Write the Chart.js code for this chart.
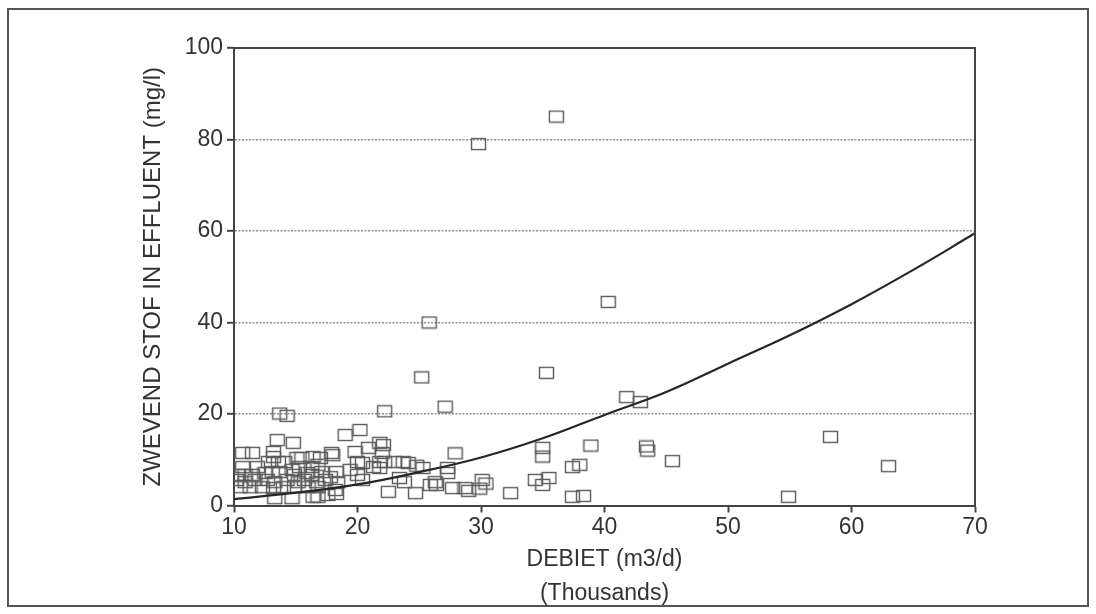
<!DOCTYPE html>
<html>
<head>
<meta charset="utf-8">
<script src="https://cdn.jsdelivr.net/npm/chart.js@4/dist/chart.umd.min.js"></script>
<style>
    html, body { margin: 0; padding: 0; background: #ffffff; }
    #wrap { width: 1096px; height: 614px; position: relative; }
</style>
</head>
<body>
<div id="wrap"><canvas id="debietChart" width="1096" height="614"></canvas></div>
<script>
// Data: debiet (x 1000 m3/d) and zwevend stof (mg/l)

const debiet = [
    36.1, 29.8, 40.3, 25.8, 25.2, 35.3, 41.8, 42.9, 27.1, 22.2, 13.7, 14.3,
    38.9, 43.4, 43.5, 45.5, 58.3, 63.0, 54.9, 35.0, 35.0, 37.4, 38.0, 35.5, 34.4, 35.0, 37.4, 38.3, 32.4,
    27.9, 27.3, 27.3, 26.3, 26.4, 27.7, 28.7, 29.0, 29.9, 30.1, 30.4, 25.9, 24.7, 22.5, 23.4, 23.8,
    23.7, 24.1, 24.8, 25.3, 23.0, 22.2, 21.8, 21.3, 21.8, 21.8, 22.1, 22.0, 20.9, 19.8, 19.0, 20.2,
    18.0, 20.0, 20.4, 18.3, 19.4, 17.8, 18.4, 20.0, 20.4, 18.2, 18.3,
    13.5, 14.8, 10.7, 11.5, 13.2, 13.2, 17.9, 15.1, 15.5, 16.4, 17.0, 12.8, 13.6, 14.1,
    10.7, 11.9, 15.3, 16.3, 16.8, 10.3, 10.9, 11.5, 12.5, 13.1, 13.7, 14.7, 14.9, 15.9, 16.3, 17.1,
    10.2, 10.9, 11.7, 12.7, 13.3, 14.3, 15.2, 15.7, 16.7, 17.4,
    10.5, 11.3, 12.3, 13.2, 14.0, 14.9, 16.0, 16.8, 13.3, 14.7, 16.4, 16.8, 17.6
];

const zwevendStof = [
    85.0, 79.0, 44.5, 40.0, 28.0, 29.0, 23.7, 22.6, 21.6, 20.6, 20.1, 19.6,
    13.1, 12.9, 12.0, 9.7, 15.0, 8.6, 1.9, 12.6, 10.7, 8.4, 8.9, 6.0, 5.6, 4.5, 1.9, 2.1, 2.7,
    11.4, 8.2, 7.1, 5.1, 4.5, 3.8, 3.8, 3.2, 3.7, 5.6, 4.8, 4.5, 2.7, 3.0, 6.0, 5.1,
    9.5, 9.3, 8.7, 8.2, 9.5, 9.5, 9.5, 8.4, 8.2, 13.7, 13.2, 11.5, 12.6, 11.7, 15.4, 16.5,
    11.0, 9.5, 9.3, 7.3, 7.8, 6.2, 5.1, 6.7, 5.6, 3.4, 2.5,
    14.3, 13.7, 11.5, 11.5, 11.7, 10.6, 11.5, 10.4, 10.4, 10.6, 10.4, 9.5, 9.5, 9.5,
    8.4, 8.4, 8.4, 8.4, 8.9, 6.7, 6.7, 6.7, 7.1, 7.3, 7.3, 7.8, 6.7, 7.1, 6.7, 7.3,
    5.6, 5.1, 5.6, 5.6, 5.1, 5.6, 5.1, 5.6, 5.1, 5.6,
    4.0, 4.0, 4.0, 3.8, 4.0, 4.0, 4.0, 4.0, 1.6, 1.6, 1.9, 1.9, 2.3
];

// fitted curve
const fitX = [10, 15, 20, 25, 30, 35, 40, 45, 50, 55, 60, 65, 70];
const fitY = [1.4, 2.8, 4.6, 7.3, 10.5, 14.7, 19.8, 24.8, 31.0, 37.2, 44.0, 51.5, 59.5];

const xTicks = [10, 20, 30, 40, 50, 60, 70];
const yTicks = [0, 20, 40, 60, 80, 100];

// Marker: open rectangle

const marker = document.createElement("canvas");
marker.width = 17;
marker.height = 14;
(function () {
    const c = marker.getContext("2d");
    c.strokeStyle = "#5a5a5a";
    c.lineWidth = 1.4;
    c.strokeRect(1.5, 1.5, 14, 11);
})();

const points = debiet.map((x, i) => ({ x: x, y: zwevendStof[i] }));
const curve = fitX.map((x, i) => ({ x: x, y: fitY[i] }));

// Frame plugin: outer box and plot box

const framePlugin = {
    id: "frames",
    beforeDraw(chart) {
        const ctx = chart.ctx;
        ctx.save();
        ctx.fillStyle = "#ffffff";
        ctx.fillRect(0, 0, chart.width, chart.height);
        ctx.strokeStyle = "#555555";
        ctx.lineWidth = 2;
        ctx.strokeRect(8, 9, 1080, 597);
        ctx.restore();
    },
    afterDatasetsDraw(chart) {
        const a = chart.chartArea, ctx = chart.ctx;
        ctx.save();
        ctx.strokeStyle = "#444444";
        ctx.lineWidth = 2;
        ctx.beginPath();
        ctx.moveTo(a.left, a.top);
        ctx.lineTo(a.right, a.top);
        ctx.lineTo(a.right, a.bottom);
        ctx.stroke();
        ctx.restore();
    }
};

Chart.defaults.font.family = "'Liberation Sans', Arial, Helvetica, sans-serif";
Chart.defaults.color = "#333333";

new Chart(document.getElementById("debietChart"), {
    type: "scatter",
    data: {
        datasets: [{
            label: "curve",
            data: curve,
            showLine: true,
            borderColor: "#262626",
            borderWidth: 2.2,
            pointRadius: 0,
            tension: 0.4,
            fill: false,
        },
        {
            label: "metingen",
            data: points,
            pointStyle: marker,
            pointRadius: 7,
            pointHoverRadius: 7,
        }],
    },
    options: {
        responsive: false,
        animation: false,
        events: [],
        layout: {
            padding: { left: 124, top: 48, right: 121, bottom: 0 },
        },
        plugins: {
            legend: { display: false },
            tooltip: { enabled: false },
        },
        scales: {
            x: {
                type: "linear",
                min: 10,
                max: 70,
                afterFit(scale) { scale.height = 108.5; },
                afterBuildTicks(scale) { scale.ticks = xTicks.map(v => ({ value: v })); },
                grid: {
                    drawOnChartArea: false,
                    drawTicks: true,
                    tickLength: 7,
                    tickColor: "#444444",
                    tickWidth: 2,
                },
                border: { display: true, color: "#444444", width: 2 },
                ticks: {
                    font: { size: 23 },
                    color: "#333333",
                    padding: 1,
                    maxRotation: 0,
                },
                title: {
                    display: true,
                    text: ["DEBIET (m3/d)", "(Thousands)"],
                    font: { size: 23, lineHeight: 1.48 },
                    color: "#333333",
                    padding: { top: 0, bottom: 3 },
                },
            },
            y: {
                type: "linear",
                min: 0,
                max: 100,
                afterFit(scale) { scale.width = 110; },
                afterBuildTicks(scale) { scale.ticks = yTicks.map(v => ({ value: v })); },
                grid: {
                    color: ctx => (ctx.tick && (ctx.tick.value === 0 || ctx.tick.value === 100)) ? "rgba(0,0,0,0)" : "#8f8f8f",
                    lineWidth: 1.6,
                    tickLength: 7,
                    tickColor: "#444444",
                    tickWidth: 2,
                },
                border: { display: true, color: "#444444", width: 2, dash: [2, 1.5] },
                ticks: {
                    font: { size: 23 },
                    color: "#333333",
                    padding: 4,
                },
                title: {
                    display: true,
                    text: "ZWEVEND STOF IN EFFLUENT (mg/l)",
                    font: { size: 24 },
                    color: "#333333",
                    padding: { top: 15, bottom: 0 },
                },
            },
        },
    },
    plugins: [framePlugin],
});
</script>
</body>
</html>
